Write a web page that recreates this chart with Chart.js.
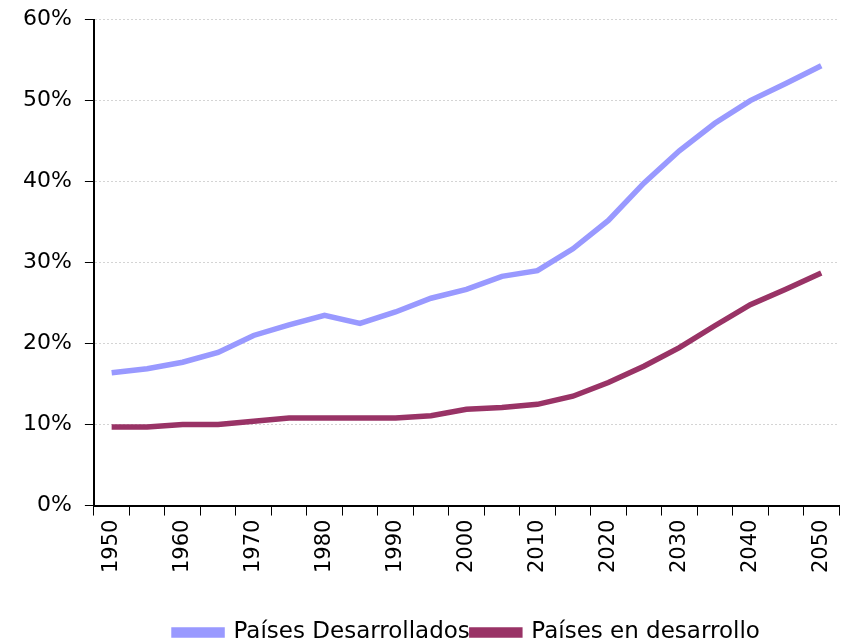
<html>
<body style="margin:0;background:#fff">
<div style="width:848px;height:643px;position:relative">
<canvas id="myChart"></canvas>
</div>
<script src="https://cdn.jsdelivr.net/npm/chart.js@4.4.0/dist/chart.umd.min.js"></script>
<script>
    const years = ["1950","1955","1960","1965","1970","1975","1980","1985","1990","1995","2000",
                   "2005","2010","2015","2020","2025","2030","2035","2040","2045","2050"];
    const desarrollados = [16.4,16.9,17.7,18.9,21.0,22.3,23.5,22.5,23.9,25.6,26.7,
                           28.3,29.0,31.7,35.2,39.8,43.8,47.2,50.0,52.1,54.3];
    const enDesarrollo = [9.7,9.7,10.0,10.0,10.4,10.8,10.8,10.8,10.8,11.1,11.9,
                          12.1,12.5,13.5,15.2,17.2,19.5,22.2,24.8,26.7,28.7];
    const yTicks = [0,10,20,30,40,50,60];

    Chart.defaults.font.family = "DejaVu Sans";
    Chart.defaults.color = "#000";

    // centra la leyenda bajo el area del grafico, no bajo el lienzo
    const shiftLegend = {
        id: "shiftLegend",
        afterLayout(chart) {
            const dx = (chart.chartArea.left + chart.chartArea.right) / 2 - chart.width / 2;
            chart.legend.left += dx;
            chart.legend.right += dx;
        }
    };

    const chartJs = new Chart("myChart", {
        type: "line",
        data: {
            labels: years,
            datasets: [{
                label: "Países Desarrollados",
                data: desarrollados,
                borderColor: "#9999FF",
                backgroundColor: "#9999FF",
                borderWidth: 5.5,
                pointRadius: 0,
                fill: false
            }, {
                label: "Países en desarrollo",
                data: enDesarrollo,
                borderColor: "#993366",
                backgroundColor: "#993366",
                borderWidth: 5.5,
                pointRadius: 0,
                fill: false
            }]
        },
        options: {
            responsive: true,
            maintainAspectRatio: false,
            animation: false,
            layout: {padding: {left: 10, right: 9, top: 0, bottom: -11}},
            plugins: {
                tooltip: {enabled: false},
                legend: {
                    position: "bottom",
                    labels: {font: {size: 23}, boxWidth: 48, boxHeight: 5, padding: 2, color: "#000"}
                }
            },
            scales: {
                x: {
                    offset: true,
                    grid: {offset: true, drawOnChartArea: false, tickLength: 10, tickColor: "#000", color: "#000"},
                    border: {color: "#000", width: 2},
                    ticks: {
                        autoSkip: false, minRotation: 90, maxRotation: 90, padding: 4,
                        font: {size: 21, lineHeight: 0.8},
                        callback: (v, i) => i % 2 === 0 ? years[i] : ""
                    },
                    afterFit: (axis) => { axis.height += 42; }
                },
                y: {
                    min: 0, max: 60,
                    afterBuildTicks: (axis) => { axis.ticks = yTicks.map(v => ({value: v})); },
                    grid: {color: "#d4d4d4", tickLength: 9, tickColor: "#000"},
                    border: {color: "#000", width: 2, dash: [2, 2]},
                    ticks: {font: {size: 22, lineHeight: 0.6}, padding: 13, callback: (v) => v + "%"}
                }
            }
        },
        plugins: [shiftLegend]
    });
</script>
</body>
</html>
